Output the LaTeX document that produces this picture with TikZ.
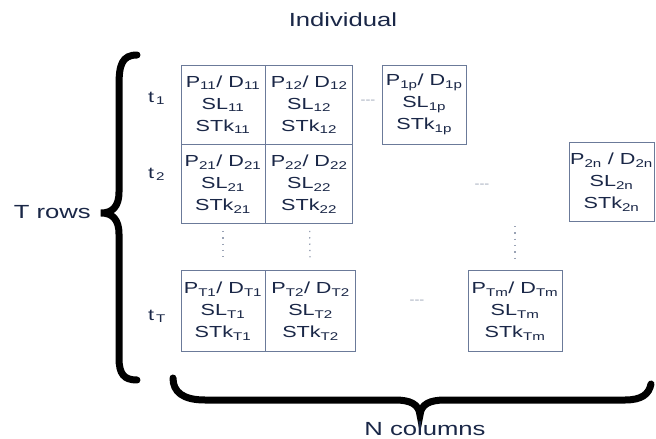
\documentclass[tikz,border=0pt]{standalone}
\usepackage{fontspec}
\setmainfont{Liberation Sans}[FakeStretch=1.35]
\usepackage{tikz}
\usetikzlibrary{positioning}
\definecolor{ipink}{HTML}{1A2747}
\definecolor{ipline}{HTML}{6B7A99}
\definecolor{ipdots}{HTML}{9AA3B5}
\newcommand{\ipsb}[1]{\textsubscript{#1}}
\tikzset{
  ipcell/.style={draw=ipline, semithick, fill=white, align=center, text=ipink,
    minimum width=84pt, minimum height=79pt, inner sep=0pt,
    font=\fontsize{16}{22}\selectfont},
  iprow/.style={text=ipink, anchor=base west, inner sep=0pt, font=\fontsize{16}{19}\selectfont},
  iptitle/.style={text=ipink, inner sep=0pt, font=\fontsize{19}{23}\selectfont},
  ipgap/.style={text=ipdots, inner sep=0pt, font=\fontsize{11}{13}\selectfont},
  ipvdots/.style={draw=ipdots, line width=1.3pt, dash pattern=on 1.3pt off 5pt},
  ipbrace/.style={draw=black, line width=7pt, line cap=round}
}
\begin{document}
\begin{tikzpicture}[x=1pt, y=-1pt]
\useasboundingbox (0,0) rectangle (656,439);
\node[iptitle, anchor=base] (title) at (343,27) {Individual};
% first row
\node[ipcell] (c11) at (223,104.5) {P\ipsb{11}/ D\ipsb{11}\\SL\ipsb{11}\\STk\ipsb{11}};
\node[ipcell, minimum width=87pt, right=0pt of c11] (c12) {P\ipsb{12}/ D\ipsb{12}\\SL\ipsb{12}\\STk\ipsb{12}};
\node[ipcell, right=29pt of c12] (c1p) {P\ipsb{1p}/ D\ipsb{1p}\\SL\ipsb{1p}\\STk\ipsb{1p}};
% second row
\node[ipcell, below=0pt of c11] (c21) {P\ipsb{21}/ D\ipsb{21}\\SL\ipsb{21}\\STk\ipsb{21}};
\node[ipcell, minimum width=87pt, below=0pt of c12] (c22) {P\ipsb{22}/ D\ipsb{22}\\SL\ipsb{22}\\STk\ipsb{22}};
\node[ipcell, minimum width=85pt] (c2n) at (611.5,182) {P\ipsb{2n} / D\ipsb{2n}\\SL\ipsb{2n}\\STk\ipsb{2n}};
% last row
\node[ipcell, minimum height=81pt] (cT1) at (223,311) {P\ipsb{T1}/ D\ipsb{T1}\\SL\ipsb{T1}\\STk\ipsb{T1}};
\node[ipcell, minimum width=90pt, minimum height=81pt, right=0pt of cT1] (cT2) {P\ipsb{T2}/ D\ipsb{T2}\\SL\ipsb{T2}\\STk\ipsb{T2}};
\node[ipcell, minimum width=94pt, minimum height=81pt] (cTm) at (515,311) {P\ipsb{Tm}/ D\ipsb{Tm}\\SL\ipsb{Tm}\\STk\ipsb{Tm}};
% row labels
\node[iprow] (t1) at (148,102) {t\ipsb{\,1}};
\node[iprow] (t2) at (148,178) {t\ipsb{\,2}};
\node[iprow] (tT) at (148,320) {t\ipsb{\,T}};
% gaps
\node[ipgap] (g1) at (368,102) {-{}-{}-};
\node[ipgap] (g2) at (482,186) {-{}-{}-};
\node[ipgap] (gT) at (417,302) {-{}-{}-};
\draw[ipvdots, shorten <=7pt, shorten >=8pt] (c21) -- (cT1);
\draw[ipvdots, shorten <=7pt, shorten >=8pt] (c22) -- (cT2);
\coordinate (vm) at (515,226);
\draw[ipvdots, shorten >=8pt] (vm) -- (cTm);
% braces
\draw[ipbrace] (137,55) .. controls (122,55) and (119,65) .. (119,85) -- (119,192)
  .. controls (119,207) and (112,213) .. (101,213) .. controls (112,213) and (119,219) .. (119,234)
  -- (119,358) .. controls (119,374) and (124,380) .. (137,380);
\node[iptitle, anchor=base east] (rows) at (91,218) {T rows};
\draw[ipbrace] (173,378) .. controls (173,392) and (183,400) .. (205,400) -- (395,400)
  .. controls (410,400) and (419,404) .. (420,415) .. controls (421,404) and (430,400) .. (445,400)
  -- (625,400) .. controls (642,400) and (649,394) .. (651,384);
\node[iptitle, anchor=base] (cols) at (425,435) {N columns};
\end{tikzpicture}
\end{document}
